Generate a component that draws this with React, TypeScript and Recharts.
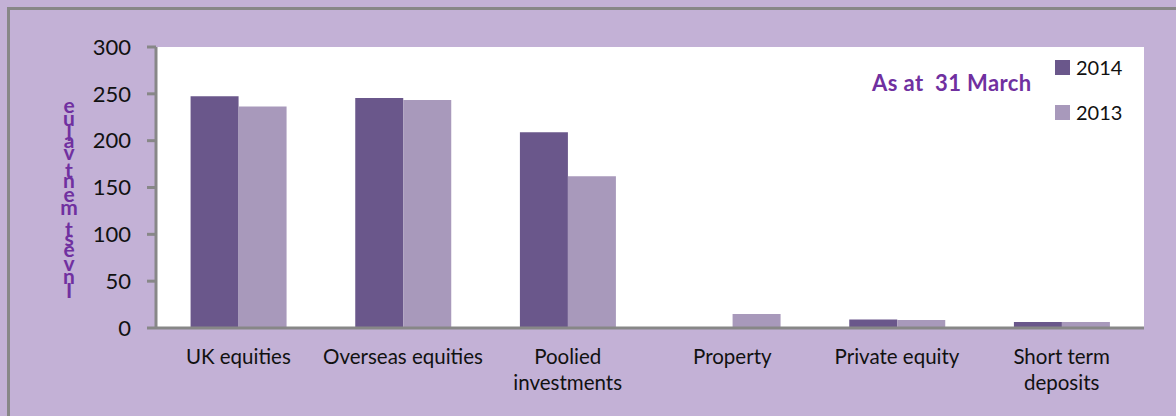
import React from 'react';
import { BarChart, Bar, XAxis, YAxis, CartesianGrid, Legend, Label } from 'recharts';

const categories = ['UK equities', 'Overseas equities', 'Poolied investments', 'Property', 'Private equity', 'Short term deposits'];
const categoryLines: Record<string, string[]> = {
  'UK equities': ['UK equities'],
  'Overseas equities': ['Overseas equities'],
  'Poolied investments': ['Poolied', 'investments'],
  'Property': ['Property'],
  'Private equity': ['Private equity'],
  'Short term deposits': ['Short term', 'deposits'],
};
const values2014 = [247.5, 245.5, 209, 0, 9, 6.5];
const values2013 = [236.5, 243.5, 162, 15, 8.5, 6.5];
const yTicks = [0, 50, 100, 150, 200, 250, 300];
const seriesNames = ['2014', '2013'];
const yLabelText = 'eulav tnemtsevnI';
const noteText = 'As at  31 March';

const data = categories.map((c, i) => ({ name: c, y2014: values2014[i], y2013: values2013[i] }));

const DARK = '#6a578b';
const LIGHT = '#a899bb';
const BG = '#c3b1d6';
const AXIS = '#878787';
const PURPLE = '#7030a0';
const FONT = 'Lato, "Open Sans", sans-serif';

const charWidths: Record<string, number> = {
  e: 0.55, u: 0.58, l: 0.28, a: 0.52, v: 0.54, ' ': 0.2, t: 0.38, n: 0.58, m: 0.87, s: 0.45, I: 0.3,
};

const XTick = (props: any) => {
  const { x, y, payload } = props;
  const lines = categoryLines[payload.value] || [payload.value];
  return (
    <text x={x} y={y} textAnchor="middle" fill="#111" fontFamily={FONT} fontSize={20.5}>
      {lines.map((l, i) => (
        <tspan key={i} x={x} y={y + 36 + i * 26}>{l}</tspan>
      ))}
    </text>
  );
};

const YLabel = () => {
  const chars = yLabelText.split('');
  let yy = 113;
  const spans: React.ReactNode[] = [];
  chars.forEach((ch, i) => {
    spans.push(
      <tspan key={i} x={69} y={yy}>{ch === ' ' ? '\u00a0' : ch}</tspan>
    );
    yy += (charWidths[ch] ?? 0.5) * 24.5;
  });
  return (
    <text textAnchor="middle" fill={PURPLE} fontFamily={FONT} fontWeight={700} fontSize={21}>
      {spans}
    </text>
  );
};

const LegendContent = (props: any) => {
  const payload = [...(props.payload || [])].sort(
    (a: any, b: any) => seriesNames.indexOf(a.value) - seriesNames.indexOf(b.value)
  );
  return (
    <div style={{ position: 'relative', width: 100, height: 80 }}>
      {payload.map((p: any, i: number) => (
        <div key={i} style={{ position: 'absolute', left: 0, top: i * 45, height: 16, display: 'flex', alignItems: 'center' }}>
          <div style={{ width: 15, height: 15, background: p.color }} />
          <span style={{ marginLeft: 6, fontFamily: FONT, fontSize: 20, color: '#111', lineHeight: '16px' }}>{p.value}</span>
        </div>
      ))}
    </div>
  );
};

export default function App() {
  return (
    <div style={{ position: 'fixed', left: 0, top: 0, width: 1176, height: 416, background: BG, overflow: 'hidden' }}>
      <div style={{ position: 'absolute', left: 7, top: 7, width: 1300, height: 600, borderLeft: `3px solid ${AXIS}`, borderTop: `3px solid ${AXIS}` }} />
      <div style={{ position: 'absolute', left: 0, top: 0 }}>
        <BarChart
          width={1176}
          height={416}
          data={data}
          margin={{ top: 47, right: 32, bottom: 28, left: 0 }}
          barCategoryGap="21%"
          barGap={0}
        >
          <CartesianGrid horizontal={false} vertical={false} fill="#ffffff" stroke="none" />
          <XAxis
            dataKey="name"
            height={60}
            axisLine={{ stroke: AXIS, strokeWidth: 3 }}
            tickLine={false}
            tickSize={0}
            tickMargin={0}
            interval={0}
            tick={<XTick />}
          />
          <YAxis
            width={156}
            domain={[0, 300]}
            ticks={yTicks}
            interval={0}
            axisLine={{ stroke: AXIS, strokeWidth: 3 }}
            tickLine={{ stroke: AXIS, strokeWidth: 3 }}
            tickSize={9}
            tickMargin={16}
            tick={{ fill: '#111', fontSize: 22, fontFamily: FONT }}
          >
            <Label content={<YLabel />} />
          </YAxis>
          <Legend
            layout="vertical"
            align="center"
            verticalAlign="middle"
            content={<LegendContent />}
            wrapperStyle={{ position: 'absolute', left: 1055, top: 59, width: 110, height: 80 }}
          />
          <Bar dataKey="y2014" name={seriesNames[0]} fill={DARK} isAnimationActive={false} />
          <Bar dataKey="y2013" name={seriesNames[1]} fill={LIGHT} isAnimationActive={false} />
        </BarChart>
      </div>
      <div style={{ position: 'absolute', left: 872, top: 69, fontFamily: FONT, fontWeight: 700, fontSize: 22, letterSpacing: '0.4px', color: PURPLE, whiteSpace: 'pre', lineHeight: '28px' }}>
        {noteText}
      </div>
    </div>
  );
}
